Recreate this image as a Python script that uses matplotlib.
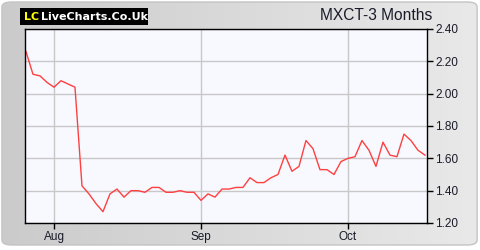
import numpy as np
import matplotlib
matplotlib.use("Agg")
import matplotlib.pyplot as plt
from matplotlib.patches import FancyBboxPatch, Rectangle

# closing prices, one per trading day
prices = [2.26, 2.12, 2.11, 2.07, 2.04, 2.08, 2.06, 2.04, 1.43, 1.38,
          1.32, 1.27, 1.38, 1.41, 1.36, 1.40, 1.40, 1.39, 1.42, 1.42,
          1.39, 1.39, 1.40, 1.39, 1.39, 1.34, 1.38, 1.36, 1.41, 1.41,
          1.42, 1.42, 1.48, 1.45, 1.45, 1.48, 1.50, 1.62, 1.52, 1.55,
          1.71, 1.66, 1.53, 1.53, 1.50, 1.58, 1.60, 1.61, 1.71, 1.65,
          1.55, 1.70, 1.62, 1.61, 1.75, 1.71, 1.65, 1.62]
month_pos = [4, 25, 46]
month_labels = ["Aug", "Sep", "Oct"]
y_ticks = [1.20, 1.40, 1.60, 1.80, 2.00, 2.20, 2.40]

plt.rcParams["font.family"] = ["Liberation Sans", "DejaVu Sans"]

fig = plt.figure(figsize=(4.8, 2.5), dpi=100)
fig.patch.set_facecolor("white")

# grey gradient panel with rounded corners
bg = fig.add_axes([0, 0, 1, 1], zorder=-2)
bg.set_xlim(0, 1)
bg.set_ylim(0, 1)
bg.axis("off")
grad = np.linspace(0, 1, 256).reshape(1, -1)
img = bg.imshow(grad, extent=[0, 1, 0, 1], aspect="auto",
                cmap=matplotlib.colors.LinearSegmentedColormap.from_list("g", ["#cbcbcb", "#e9e9e9"]))
box = FancyBboxPatch((0.004, 0.02), 0.99, 0.972, boxstyle="round,pad=0,rounding_size=0.02",
                     transform=bg.transAxes, facecolor="none", edgecolor="#c4c4c4", lw=1)
bg.add_patch(box)
img.set_clip_path(box)

# logo
bg.add_patch(Rectangle((20 / 480, 1 - 25 / 250), 128 / 480, 17 / 250,
                       facecolor="black", edgecolor="none", transform=bg.transAxes))
fig.text(24 / 480, 1 - 16.5 / 250, "LC", color="#ffff00", fontsize=8, fontweight="bold",
         family="DejaVu Sans", va="center", ha="left")
fig.text(41 / 480, 1 - 16.5 / 250, "LiveCharts.Co.Uk", color="white", fontsize=8,
         fontweight="bold", family="DejaVu Sans", va="center", ha="left")

fig.text(432 / 480, 1 - 16 / 250, "MXCT-3 Months", color="#1a1a2a", fontsize=11.2,
         ha="right", va="center")

ax = fig.add_axes([25 / 480, 1 - 223 / 250, 402 / 480, 194 / 250])
ax.set_facecolor("#f8f8ff")
ax.plot(range(len(prices)), prices, color="#ff4040", lw=1)

ax.set_xlim(-0.14, 57.29)
ax.set_ylim(1.20, 2.40)
ax.set_xticks(month_pos)
ax.set_xticklabels(month_labels)
ax.set_yticks(y_ticks)
ax.set_yticklabels([f"{v:.2f}" for v in y_ticks])
ax.yaxis.tick_right()
ax.tick_params(axis="both", labelsize=8.5, colors="black", labelcolor="#1a1a2a", length=4, width=1)
ax.tick_params(axis="y", pad=2)
ax.tick_params(axis="x", pad=2)
ax.grid(True, color="#c8c8c8", lw=1)
for s in ax.spines.values():
    s.set_color("black")
    s.set_linewidth(1)

fig.savefig("out.png", dpi=100)
